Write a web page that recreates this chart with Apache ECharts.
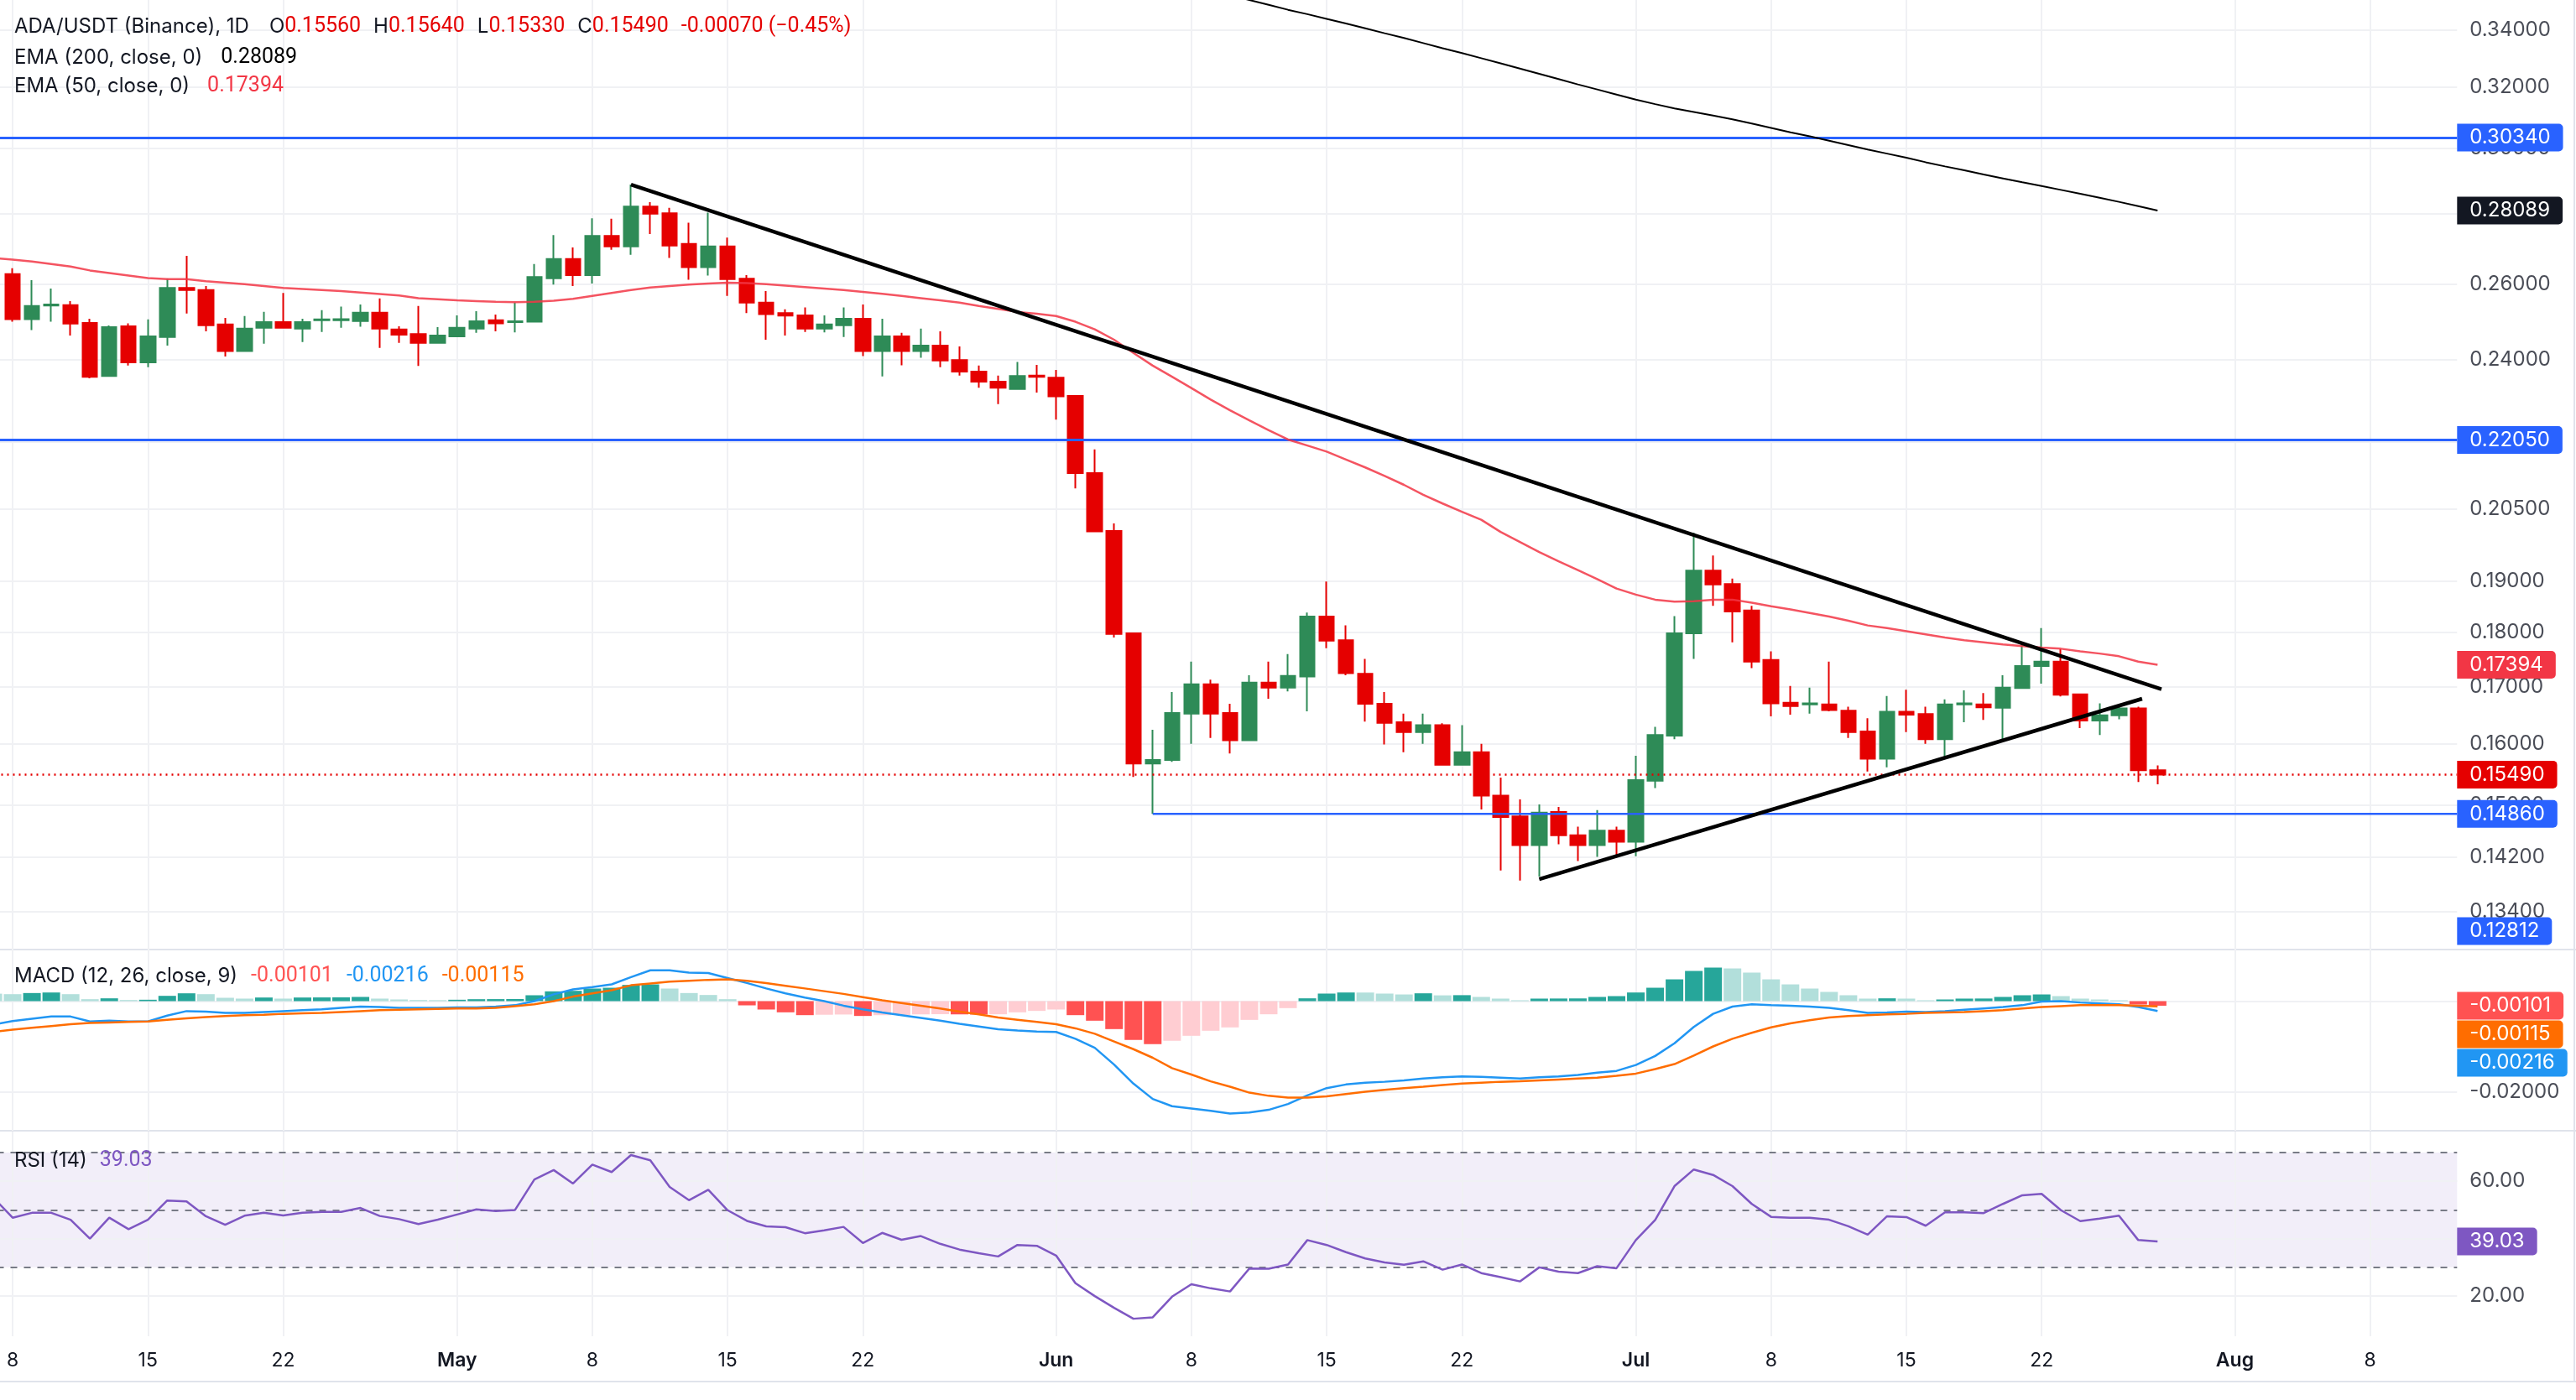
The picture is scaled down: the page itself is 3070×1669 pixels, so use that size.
<!DOCTYPE html>
<html>
<head>
<meta charset="utf-8">
<title>ADA/USDT 1D</title>
<script src="https://cdn.jsdelivr.net/npm/echarts@6/dist/echarts.min.js"></script>
<style>
  html, body { margin: 0; padding: 0; background: #fff; }
  #chart { width: 3070px; height: 1669px; }
</style>
</head>
<body>
<div id="chart"></div>
<script>
// daily bars, Apr 7 .. Jul 28 (Apr 7 only feeds the indicator lines at the left edge)
const opens = [null,
  .2627,.2505,.2541,.2542,.2495,.2359,.2486,.2393,.2458,.2589,
  .2583,.2491,.2422,.2482,.2497,.2480,.2502,.2502,.2500,.2522,
  .2478,.2466,.2443,.2460,.2480,.2502,.2497,.2498,.2615,.2669,
  .2624,.2735,.2705,.2821,.2801,.2712,.2646,.2705,.2614,.2549,
  .2521,.2515,.2480,.2489,.2506,.2422,.2460,.2422,.2436,.2399,
  .2370,.2345,.2327,.2360,.2355,.2310,.2129,.2003,.1798,.1567,
  .1573,.1652,.1704,.1653,.1606,.1707,.1698,.1718,.1830,.1785,
  .1723,.1669,.1637,.1620,.1632,.1565,.1586,.1515,.1482,.1438,
  .1489,.1453,.1438,.1460,.1443,.1539,.1614,.1798,.1921,.1894,
  .1842,.1748,.1671,.1668,.1668,.1657,.1621,.1575,.1655,.1651,
  .1608,.1668,.1668,.1662,.1697,.1737,.1745,.1686,.1640,.1649,
  .1661,.1556];
const highs = [null,
  .2643,.2610,.2587,.2553,.2506,.2488,.2494,.2504,.2614,.2678,
  .2594,.2508,.2513,.2524,.2575,.2506,.2529,.2538,.2544,.2560,
  .2486,.2540,.2484,.2515,.2526,.2517,.2549,.2655,.2737,.2702,
  .2786,.2785,.2887,.2834,.2817,.2773,.2803,.2730,.2624,.2580,
  .2531,.2536,.2515,.2536,.2544,.2506,.2469,.2480,.2473,.2434,
  .2385,.2360,.2394,.2387,.2374,.2312,.2183,.2019,.1798,.1624,
  .1690,.1745,.1712,.1669,.1720,.1745,.1759,.1838,.1899,.1813,
  .1750,.1690,.1652,.1652,.1635,.1632,.1600,.1544,.1509,.1501,
  .1497,.1466,.1492,.1466,.1580,.1629,.1831,.1999,.1952,.1905,
  .1851,.1764,.1701,.1698,.1745,.1664,.1644,.1683,.1694,.1664,
  .1677,.1693,.1688,.1720,.1777,.1808,.1768,.1686,.1670,.1668,
  .1664,.1564];
const lows = [null,
  .2498,.2476,.2498,.2462,.2353,.2357,.2385,.2381,.2436,.2520,
  .2473,.2408,.2420,.2441,.2480,.2445,.2471,.2482,.2485,.2430,
  .2443,.2384,.2443,.2460,.2469,.2473,.2470,.2496,.2598,.2594,
  .2601,.2695,.2681,.2740,.2672,.2611,.2623,.2567,.2521,.2451,
  .2462,.2471,.2470,.2458,.2409,.2358,.2386,.2405,.2381,.2360,
  .2330,.2290,.2327,.2318,.2253,.2095,.2002,.1790,.1545,.1486,
  .1570,.1600,.1610,.1584,.1606,.1678,.1691,.1656,.1770,.1720,
  .1638,.1599,.1586,.1600,.1564,.1565,.1493,.1400,.1385,.1391,
  .1439,.1414,.1420,.1423,.1421,.1527,.1608,.1750,.1851,.1781,
  .1733,.1647,.1650,.1652,.1656,.1610,.1554,.1561,.1620,.1600,
  .1579,.1637,.1641,.1608,.1696,.1705,.1682,.1627,.1615,.1642,
  .1537,.1533];
const closes = [null,
  .2505,.2540,.2544,.2493,.2357,.2484,.2393,.2460,.2589,.2583,
  .2489,.2422,.2480,.2497,.2482,.2497,.2504,.2505,.2522,.2480,
  .2464,.2443,.2462,.2482,.2499,.2494,.2499,.2619,.2669,.2624,
  .2735,.2705,.2821,.2800,.2707,.2646,.2705,.2613,.2549,.2518,
  .2514,.2480,.2491,.2506,.2422,.2460,.2422,.2436,.2398,.2370,
  .2345,.2330,.2359,.2357,.2309,.2129,.2002,.1797,.1567,.1573,
  .1653,.1704,.1652,.1606,.1707,.1698,.1719,.1830,.1784,.1724,
  .1669,.1636,.1620,.1632,.1565,.1586,.1515,.1481,.1438,.1488,
  .1453,.1438,.1460,.1443,.1540,.1615,.1798,.1921,.1893,.1840,
  .1745,.1670,.1665,.1670,.1658,.1620,.1575,.1655,.1650,.1608,
  .1668,.1670,.1663,.1698,.1737,.1745,.1685,.1640,.1649,.1661,
  .1556,.1549];

const ema50 = [.2672,
  .2667,.2662,.2655,.2648,.2637,.2630,.2623,.2616,.2613,.2613,
  .2607,.2603,.2599,.2594,.2589,.2586,.2583,.2580,.2576,.2572,
  .2568,.2561,.2558,.2555,.2553,.2551,.2550,.2551,.2554,.2559,
  .2567,.2575,.2583,.2590,.2594,.2598,.2601,.2603,.2602,.2599,
  .2595,.2591,.2587,.2583,.2578,.2573,.2567,.2561,.2555,.2549,
  .2540,.2532,.2524,.2519,.2513,.2498,.2478,.2451,.2417,.2385,
  .2357,.2329,.2301,.2275,.2251,.2228,.2206,.2192,.2178,.2160,
  .2142,.2123,.2103,.2081,.2062,.2044,.2027,.2001,.1980,.1959,
  .1940,.1922,.1904,.1885,.1873,.1863,.1859,.1860,.1863,.1863,
  .1857,.1850,.1844,.1837,.1830,.1822,.1813,.1808,.1802,.1796,
  .1790,.1785,.1781,.1777,.1774,.1771,.1769,.1764,.1760,.1755,
  .1745,.17394];
// EMA 200 sits above the visible range until mid June
const ema200 = Array(63).fill(null).concat([
  .3545,.3526,.3508,.3490,.3472,.3456,.3439,.3422,.3405,.3387,
  .3370,.3352,.3334,.3317,.3299,.3281,.3263,.3245,.3227,.3209,
  .3192,.3175,.3158,.3143,.3129,.3117,.3105,.3093,.3079,.3065,
  .3051,.3038,.3024,.3010,.2996,.2983,.2970,.2956,.2943,.2931,
  .2918,.2906,.2894,.2883,.2871,.2859,.2847,.2835,.2822,.28089]);

const macdLine = [-0.0052,
  -0.0044,-0.0039,-0.0034,-0.0034,-0.0045,-0.0043,-0.0045,-0.0045,-0.0032,-0.0022,
  -0.0023,-0.0026,-0.0026,-0.0024,-0.0022,-0.0020,-0.0018,-0.0015,-0.0012,-0.0013,
  -0.0015,-0.0015,-0.0015,-0.0014,-0.0014,-0.0012,-0.0009,0.0000,0.0015,0.0026,
  0.0031,0.0037,0.0053,0.0068,0.0068,0.0063,0.0062,0.0051,0.0040,0.0028,
  0.0017,0.0008,0.0000,-0.0010,-0.0018,-0.0025,-0.0031,-0.0037,-0.0043,-0.0050,
  -0.0056,-0.0062,-0.0065,-0.0067,-0.0068,-0.0083,-0.0103,-0.0140,-0.0182,-0.0216,
  -0.0232,-0.0237,-0.0242,-0.0248,-0.0246,-0.0240,-0.0227,-0.0208,-0.0192,-0.0184,
  -0.0180,-0.0178,-0.0175,-0.0171,-0.0168,-0.0166,-0.0167,-0.0169,-0.0171,-0.0168,
  -0.0166,-0.0163,-0.0158,-0.0154,-0.0141,-0.0121,-0.0093,-0.0057,-0.0028,-0.0012,
  -0.0007,-0.0009,-0.0010,-0.0012,-0.0015,-0.0020,-0.0026,-0.0025,-0.0023,-0.0024,
  -0.0022,-0.0019,-0.0016,-0.0013,-0.0009,-0.0001,0.0000,-0.0003,-0.0005,-0.0007,
  -0.0013,-0.00216];
const signalLine = [-0.0068,
  -0.0063,-0.0059,-0.0055,-0.0051,-0.0048,-0.0047,-0.0046,-0.0045,-0.0041,-0.0038,
  -0.0035,-0.0033,-0.0031,-0.0030,-0.0028,-0.0027,-0.0026,-0.0024,-0.0022,-0.0020,
  -0.0019,-0.0018,-0.0017,-0.0016,-0.0016,-0.0015,-0.0011,-0.0007,0.0000,0.0010,
  0.0017,0.0024,0.0035,0.0039,0.0043,0.0045,0.0047,0.0048,0.0045,0.0040,
  0.0034,0.0028,0.0022,0.0016,0.0009,0.0002,-0.0004,-0.0010,-0.0016,-0.0023,
  -0.0029,-0.0036,-0.0041,-0.0046,-0.0051,-0.0060,-0.0072,-0.0089,-0.0106,-0.0125,
  -0.0148,-0.0162,-0.0177,-0.0189,-0.0202,-0.0209,-0.0213,-0.0213,-0.0210,-0.0205,
  -0.0200,-0.0196,-0.0192,-0.0189,-0.0185,-0.0182,-0.0180,-0.0178,-0.0177,-0.0175,
  -0.0173,-0.0171,-0.0169,-0.0165,-0.0160,-0.0150,-0.0139,-0.0120,-0.0100,-0.0083,
  -0.0070,-0.0058,-0.0049,-0.0042,-0.0036,-0.0033,-0.0031,-0.0029,-0.0028,-0.0026,
  -0.0025,-0.0024,-0.0022,-0.0020,-0.0016,-0.0013,-0.0011,-0.0009,-0.0009,-0.0009,
  -0.0010,-0.00115];
const macdHist = [0.00165,
  0.00154,0.00179,0.00191,0.00154,0.00043,0.00062,0.00025,0.00031,0.00117,0.00173,
  0.00154,0.00074,0.00056,0.00080,0.00056,0.00080,0.00082,0.00084,0.00093,0.00056,
  0.00037,0.00025,0.00022,0.00031,0.00043,0.00045,0.00047,0.00130,0.00216,0.00228,
  0.00278,0.00296,0.00358,0.00370,0.00278,0.00179,0.00136,0.00043,-0.00093,-0.00185,
  -0.00247,-0.00309,-0.00300,-0.00295,-0.00327,-0.00310,-0.00305,-0.00292,-0.00288,-0.00292,
  -0.00296,-0.00290,-0.00247,-0.00216,-0.00185,-0.00309,-0.00432,-0.00617,-0.00858,-0.00951,
  -0.00877,-0.00765,-0.00654,-0.00580,-0.00414,-0.00290,-0.00154,0.00062,0.00167,0.00191,
  0.00190,0.00167,0.00148,0.00173,0.00128,0.00132,0.00093,0.00056,0.00019,0.00056,
  0.00058,0.00060,0.00093,0.00111,0.00191,0.00296,0.00481,0.00667,0.00741,0.00722,
  0.00630,0.00481,0.00370,0.00278,0.00204,0.00130,0.00056,0.00062,0.00056,0.00019,
  0.00037,0.00056,0.00058,0.00093,0.00130,0.00148,0.00111,0.00056,0.00037,0.00019,
  -0.00075,-0.00101];
const rsi = [54.3,
  47.3,49.0,49.0,46.6,40.0,47.3,43.3,46.6,53.3,53.0,
  47.8,44.8,48.0,49.0,48.1,49.0,49.3,49.3,50.7,47.9,
  46.8,45.1,46.6,48.4,50.2,49.6,50.0,60.6,63.9,59.2,
  65.8,63.2,69.1,67.3,58.0,53.4,57.0,49.9,46.2,44.3,
  44.0,41.9,42.9,44.1,38.5,42.0,39.6,40.9,38.2,36.2,
  34.9,33.8,37.8,37.5,34.1,24.5,20.0,15.9,12.1,12.6,
  19.8,24.1,22.7,21.6,29.6,29.5,31.0,39.5,37.8,35.3,
  33.1,31.7,30.9,32.1,29.2,31.0,28.0,26.6,25.1,30.0,
  28.5,28.0,30.4,29.7,39.5,46.5,58.3,64.1,62.2,58.3,
  52.1,47.6,47.3,47.3,46.6,44.3,41.4,47.8,47.5,44.5,
  49.2,49.2,48.9,52.1,55.1,55.6,49.9,46.1,47.0,48.0,
  39.5,39.03];

// drawn levels and trend lines: [day index, price]
const resistanceLevels = [0.3034, 0.2205];
const supportLine = [[60, 0.1486], [127.5, 0.1486]];
const trendDown = [[33, 0.2887], [112.2, 0.1695]];
const trendUp = [[80, 0.1387], [111.2, 0.1678]];
const lastPrice = 0.1549;

// axis ticks
const priceTicks = [0.34, 0.32, 0.30, 0.28, 0.26, 0.24, 0.22, 0.205, 0.19, 0.18, 0.17, 0.16, 0.15, 0.142, 0.134];
const macdTicks = [0, -0.02];
const rsiTicks = [60, 40, 20];
const rsiBands = [70, 50, 30];
const timeTicks = ['2024-04-08', '2024-04-15', '2024-04-22', '2024-05-01', '2024-05-08', '2024-05-15',
  '2024-05-22', '2024-06-01', '2024-06-08', '2024-06-15', '2024-06-22', '2024-07-01', '2024-07-08',
  '2024-07-15', '2024-07-22', '2024-08-01', '2024-08-08'];
const MONTHS = ['Jan', 'Feb', 'Mar', 'Apr', 'May', 'Jun', 'Jul', 'Aug', 'Sep', 'Oct', 'Nov', 'Dec'];

const dates = [];
for (let i = 0; i < 128; i++) {
  dates.push(new Date(Date.UTC(2024, 3, 7 + i)).toISOString().slice(0, 10));
}
const tickSet = new Set(timeTicks);

const FONT = 'Inter, Roboto, sans-serif';
const NUM_FONT = 'Roboto, Inter, sans-serif';
const TEXT = '#131722';
const AXIS_TEXT = '#4a4d57';
const GRID = '#f0f1f4';
const GREEN = '#2e8b57';
const RED = '#e50000';
const BLUE = '#2962ff';
const EMA_RED = '#f23645';

const candleData = dates.slice(0, opens.length).map((d, i) =>
  opens[i] == null ? ['-', '-', '-', '-'] : [opens[i], closes[i], lows[i], highs[i]]);

function histColor(i) {
  const v = macdHist[i];
  const prev = i > 0 ? macdHist[i - 1] : Infinity;
  if (v >= 0) return v > prev ? '#26a69a' : '#b2dfdb';
  return v < prev ? '#ff5252' : '#ffcdd2';
}

const rs = (extra) => Object.assign({ fontSize: 24, fontFamily: FONT, fontWeight: 'normal', color: TEXT, lineHeight: 30 }, extra);
const rn = (extra) => rs(Object.assign({ fontSize: 25, fontFamily: NUM_FONT }, extra));
const legend = (top, text, rich) => ({ left: 17, top, padding: 0, text,
  textStyle: { fontWeight: 'normal', fontSize: 24, fontFamily: FONT, color: TEXT, rich } });

function tickLabel(text) {
  return { show: true, position: 'end', distance: 0, formatter: text, color: AXIS_TEXT,
    fontSize: 24, fontFamily: FONT, padding: [0, 14, 0, 15] };
}
function gridMarks(values, fmt) {
  return values.map(v => ({ yAxis: v, label: tickLabel(fmt(v)) }))
    .concat(timeTicks.map(d => ({ xAxis: d, label: { show: false } })));
}
function helper(id, grid, data, extra) {
  return Object.assign({
    id, type: 'line', xAxisIndex: grid, yAxisIndex: grid, data: [], silent: true,
    markLine: { silent: true, symbol: 'none', z: 1, animation: false, precision: 10,
      lineStyle: { color: GRID, width: 2, type: 'solid' }, data }
  }, extra || {});
}

const catAxis = (grid, showLabels) => ({
  type: 'category', gridIndex: grid, data: dates, boundaryGap: true,
  axisLine: { show: false }, axisTick: { show: false }, splitLine: { show: false },
  axisLabel: showLabels ? {
    show: true, interval: (i, v) => tickSet.has(v), margin: 18,
    color: TEXT, fontSize: 23, fontFamily: FONT,
    formatter: v => {
      const day = +v.slice(8);
      return day === 1 ? '{m|' + MONTHS[+v.slice(5, 7) - 1] + '}' : String(day);
    },
    rich: { m: { fontSize: 23, fontFamily: FONT, color: TEXT, fontWeight: 600 } }
  } : { show: false }
});

const option = {
  animation: false,
  backgroundColor: '#ffffff',
  grid: [
    { left: -19.5, top: 0, width: 2947.8, height: 1132, outerBoundsMode: 'none', containLabel: false },
    { left: -19.5, top: 1132, width: 2947.8, height: 216, outerBoundsMode: 'none', containLabel: false },
    { left: -19.5, top: 1349, width: 2947.8, height: 244, outerBoundsMode: 'none', containLabel: false }
  ],
  xAxis: [
    catAxis(0, false), catAxis(1, false), catAxis(2, true),
    { type: 'value', gridIndex: 0, min: -0.5, max: 127.5, show: false }
  ],
  yAxis: [
    { type: 'log', gridIndex: 0, min: 0.12878, max: 0.3508, show: false, splitLine: { show: false } },
    { type: 'value', gridIndex: 1, min: -0.02861, max: 0.01139, show: false, splitLine: { show: false } },
    { type: 'value', gridIndex: 2, min: 6, max: 77.3, show: false, splitLine: { show: false } }
  ],
  title: [
    legend(17, '{t|ADA/USDT (Binance), 1D}{k0|O}{v|0.15560}{k|H}{v|0.15640}{k|L}{v|0.15330}{k|C}{v|0.15490}{c|-0.00070 (−0.45%)}',
      { t: rs(), k0: rs({ padding: [0, 0, 0, 24] }), k: rs({ padding: [0, 0, 0, 15] }),
        v: rn({ color: RED }), c: rn({ color: RED, padding: [0, 0, 0, 15] }) }),
    legend(54, '{t|EMA (200, close, 0)}{v|0.28089}',
      { t: rs(), v: rn({ color: '#000', padding: [0, 0, 0, 22] }) }),
    legend(88, '{t|EMA (50, close, 0)}{v|0.17394}',
      { t: rs(), v: rn({ color: EMA_RED, padding: [0, 0, 0, 21] }) }),
    legend(1149, '{t|MACD (12, 26, close, 9)}{h|-0.00101}{m|-0.00216}{s|-0.00115}',
      { t: rs(), h: rn({ color: '#ff5252', padding: [0, 0, 0, 16] }),
        m: rn({ color: '#2196f3', padding: [0, 0, 0, 16] }), s: rn({ color: '#ff6d00', padding: [0, 0, 0, 16] }) }),
    legend(1369, '{t|RSI (14)}{v|39.03}',
      { t: rs(), v: rn({ color: '#7e57c2', padding: [0, 0, 0, 15] }) })
  ],
  graphic: [
    { type: 'rect', silent: true, shape: { x: 0, y: 1131, width: 3070, height: 2 }, style: { fill: '#e0e3eb' } },
    { type: 'rect', silent: true, shape: { x: 0, y: 1347, width: 3070, height: 2 }, style: { fill: '#e0e3eb' } },
    { type: 'rect', silent: true, shape: { x: 0, y: 1646, width: 3070, height: 2 }, style: { fill: '#e0e3eb' } },
    { type: 'rect', silent: true, shape: { x: 3067, y: 0, width: 2, height: 1648 }, style: { fill: '#e0e3eb' } }
  ],
  series: [
    // price pane
    helper('priceGrid', 0, gridMarks(priceTicks, v => v.toFixed(5))),
    {
      type: 'candlestick', xAxisIndex: 0, yAxisIndex: 0, data: candleData, barWidth: 18, z: 3,
      itemStyle: { color: GREEN, color0: RED, borderColor: GREEN, borderColor0: RED, borderWidth: 2 }
    },
    { type: 'line', xAxisIndex: 0, yAxisIndex: 0, data: ema50, symbol: 'none', z: 4,
      lineStyle: { color: EMA_RED, width: 2.5, opacity: 0.85 } },
    { type: 'line', xAxisIndex: 0, yAxisIndex: 0, data: ema200, symbol: 'none', z: 4,
      lineStyle: { color: '#000', width: 2 } },
    { type: 'line', xAxisIndex: 3, yAxisIndex: 0, data: supportLine, symbol: 'none', z: 4,
      lineStyle: { color: BLUE, width: 2.5 } },
    { type: 'line', xAxisIndex: 3, yAxisIndex: 0, data: trendDown, symbol: 'none', z: 6,
      lineStyle: { color: '#000', width: 4.5 } },
    { type: 'line', xAxisIndex: 3, yAxisIndex: 0, data: trendUp, symbol: 'none', z: 6,
      lineStyle: { color: '#000', width: 4.5 } },
    helper('levels', 0, resistanceLevels.map(v => ({ yAxis: v, label: { show: false } }))
      .concat([{ yAxis: lastPrice, label: { show: false }, lineStyle: { color: RED, width: 2.5, type: [2, 5] } }])),
    helper('priceTags', 0, []),

    // MACD pane
    helper('macdGrid', 1, gridMarks(macdTicks, v => v.toFixed(5))),
    { type: 'bar', xAxisIndex: 1, yAxisIndex: 1, data: macdHist, barWidth: 21, z: 3,
      itemStyle: { color: p => histColor(p.dataIndex) } },
    { type: 'line', xAxisIndex: 1, yAxisIndex: 1, data: macdLine, symbol: 'none', z: 4,
      lineStyle: { color: '#2196f3', width: 2.5 } },
    { type: 'line', xAxisIndex: 1, yAxisIndex: 1, data: signalLine, symbol: 'none', z: 4,
      lineStyle: { color: '#ff6d00', width: 2.5 } },
    helper('macdTags', 1, []),

    // RSI pane
    helper('rsiGrid', 2, gridMarks(rsiTicks, v => v.toFixed(2)), {
      markArea: { silent: true, itemStyle: { color: 'rgba(126,87,194,0.1)' },
        data: [[{ yAxis: rsiBands[0] }, { yAxis: rsiBands[2] }]] }
    }),
    helper('rsiBands', 2, rsiBands.map(v => ({ yAxis: v, label: { show: false },
      lineStyle: { color: '#787b86', width: 2, type: [8, 8] } }))),
    { type: 'line', xAxisIndex: 2, yAxisIndex: 2, data: rsi, symbol: 'none', z: 4,
      lineStyle: { color: '#7e57c2', width: 2.5 } },
    helper('rsiTags', 2, [])
  ]
};
// level lines are blue except the dotted last-price line
const levels = option.series.find(s => s.id === 'levels');
levels.markLine.lineStyle = { color: BLUE, width: 3, type: 'solid' };
levels.markLine.z = 4;

const chart = echarts.init(document.getElementById('chart'));
chart.setOption(option);

// value tags on the right scale; stacked so they never overlap (as on the original)
function tagItems(axis, tags, paneBottom) {
  const items = [];
  let lastY = -Infinity;
  tags.forEach(t => {
    let y = chart.convertToPixel({ yAxisIndex: axis }, t.value);
    if (t.stack) y = Math.max(y, lastY + 34);
    y = Math.min(y, paneBottom - 22);
    lastY = y;
    items.push({
      yAxis: chart.convertFromPixel({ yAxisIndex: axis }, y),
      lineStyle: { color: 'transparent' },
      label: { show: true, position: 'end', distance: 0, formatter: t.text, color: '#fff',
        backgroundColor: t.bg, padding: [5, 15, 4, 15], lineHeight: 24, borderRadius: [0, 5, 5, 0],
        fontSize: 24, fontFamily: FONT }
    });
  });
  return items;
}
const tagSeries = (id, data) => ({ id, markLine: { z: 10, precision: 10, data } });
chart.setOption({
  series: [
    tagSeries('priceTags', tagItems(0, [
      { value: 0.3034, text: '0.30340', bg: BLUE },
      { value: 0.28089, text: '0.28089', bg: '#131722' },
      { value: 0.2205, text: '0.22050', bg: BLUE },
      { value: 0.17394, text: '0.17394', bg: EMA_RED },
      { value: lastPrice, text: '0.15490', bg: RED },
      { value: 0.1486, text: '0.14860', bg: BLUE },
      { value: 0.12812, text: '0.12812', bg: BLUE }
    ], 1132)),
    tagSeries('macdTags', tagItems(1, [
      { value: macdHist[macdHist.length - 1], text: '-0.00101', bg: '#ff5252' },
      { value: signalLine[signalLine.length - 1], text: '-0.00115', bg: '#ff6d00', stack: true },
      { value: macdLine[macdLine.length - 1], text: '-0.00216', bg: '#2196f3', stack: true }
    ], 1348)),
    tagSeries('rsiTags', tagItems(2, [
      { value: rsi[rsi.length - 1], text: '39.03', bg: '#7e57c2' }
    ], 1593))
  ]
});
</script>
</body>
</html>
